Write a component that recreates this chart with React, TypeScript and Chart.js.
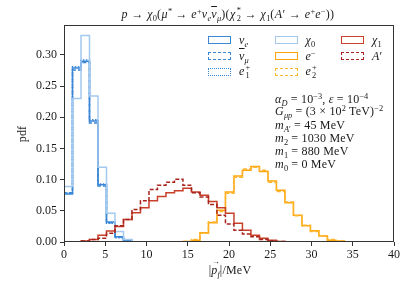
import React, { useEffect, useRef } from "react";
import { Chart, registerables } from "chart.js";

Chart.register(...registerables);

// ---------------- data ----------------
const BIN_WIDTH = 1.03; // MeV, shared bin width of all histograms
const X_MIN = 0;
const X_MAX = 40;
const X_STEP = 5;
const Y_MIN = 0;
const Y_MAX = 0.348;
const Y_STEP = 0.05;

// pdf values per bin (bin k spans [k*BIN_WIDTH, (k+1)*BIN_WIDTH])
const nuE = [0.077, 0.279, 0.29, 0.194, 0.092, 0.032, 0.0085, 0.003];
const nuMuBar = [0.079, 0.276, 0.288, 0.191, 0.09, 0.031, 0.008, 0.002];
const e1Plus = [0.078, 0.281, 0.292, 0.196, 0.093, 0.03, 0.007, 0.002];
const chi0 = [0.089, 0.23, 0.331, 0.234, 0.12, 0.046, 0.017, 0.004];
const eMinus = [
  0, 0, 0, 0, 0, 0, 0, 0, 0, 0, 0, 0, 0, 0, 0.001, 0.003, 0.015, 0.031, 0.051,
  0.08, 0.106, 0.115, 0.121, 0.113, 0.098, 0.083, 0.063, 0.043, 0.026, 0.018,
  0.0096, 0.003, 0.0016,
];
const e2Plus = [
  0, 0, 0, 0, 0, 0, 0, 0, 0, 0, 0, 0, 0, 0, 0.001, 0.004, 0.014, 0.032, 0.049,
  0.078, 0.104, 0.117, 0.12, 0.115, 0.096, 0.081, 0.064, 0.042, 0.027, 0.017,
  0.01, 0.004, 0.001,
];
const chi1 = [
  0, 0.0005, 0.0016, 0.004, 0.011, 0.0176, 0.025, 0.036, 0.047, 0.055, 0.066,
  0.073, 0.079, 0.082, 0.086, 0.08, 0.075, 0.065, 0.055, 0.046, 0.03, 0.019,
  0.011, 0.006, 0.0027, 0.001, 0.0005,
];
const aPrime = [
  0, 0.0005, 0.0016, 0.004, 0.006, 0.014, 0.026, 0.036, 0.052, 0.066, 0.084,
  0.091, 0.096, 0.1005, 0.091, 0.079, 0.072, 0.06, 0.043, 0.029, 0.019, 0.013,
  0.0085, 0.004, 0.002, 0.001,
];

// ---------------- styles ----------------
const FONT = "'Liberation Serif', 'DejaVu Serif', serif";
const FS = 12;
const BLUE = "#3a87d6";
const LIGHT_BLUE = "#a3c9ef";
const ORANGE = "#ffa50a";
const LIGHT_ORANGE = "#ffb52e";
const RED = "#c8402a";
const DARK_RED = "#a8231b";

type SeriesDef = {
  key: string;
  values: number[];
  color: string;
  dash: number[];
  css: string;
};

const SERIES: SeriesDef[] = [
  { key: "nuE", values: nuE, color: BLUE, dash: [], css: "solid" },
  { key: "nuMuBar", values: nuMuBar, color: BLUE, dash: [4, 2], css: "dashed" },
  { key: "e1Plus", values: e1Plus, color: BLUE, dash: [1.5, 1.5], css: "dotted" },
  { key: "chi0", values: chi0, color: LIGHT_BLUE, dash: [], css: "solid" },
  { key: "eMinus", values: eMinus, color: ORANGE, dash: [], css: "solid" },
  { key: "e2Plus", values: e2Plus, color: LIGHT_ORANGE, dash: [4, 2], css: "dashed" },
  { key: "chi1", values: chi1, color: RED, dash: [], css: "solid" },
  { key: "aPrime", values: aPrime, color: DARK_RED, dash: [4, 2], css: "dashed" },
];

function outline(values: number[]) {
  const pts: { x: number; y: number }[] = [{ x: 0, y: 0 }];
  values.forEach((v, i) => pts.push({ x: i * BIN_WIDTH, y: v }));
  pts.push({ x: values.length * BIN_WIDTH, y: 0 });
  return pts;
}

const framePlugin = {
  id: "frame",
  afterDraw(chart: any) {
    const { ctx, chartArea: a } = chart;
    ctx.save();
    ctx.strokeStyle = "#333";
    ctx.lineWidth = 1;
    ctx.strokeRect(
      Math.round(a.left) + 0.5,
      Math.round(a.top) + 0.5,
      Math.round(a.right - a.left) - 1,
      Math.round(a.bottom - a.top) - 1
    );
    ctx.restore();
  },
};

// ---------------- math text helpers ----------------
const Sub = ({ children }: { children: React.ReactNode }) => (
  <sub style={{ fontSize: "70%", verticalAlign: "-0.3em", lineHeight: 0, letterSpacing: 0 }}>{children}</sub>
);
const Sup = ({ children }: { children: React.ReactNode }) => (
  <sup style={{ fontSize: "70%", verticalAlign: "0.5em", lineHeight: 0, letterSpacing: 0 }}>{children}</sup>
);
const SubSup = ({ sub, sup }: { sub: React.ReactNode; sup: React.ReactNode }) => (
  <span
    style={{
      display: "inline-block",
      fontSize: "70%",
      lineHeight: 0.95,
      verticalAlign: "-0.35em",
      marginLeft: 1,
      textAlign: "left",
    }}
  >
    <span style={{ display: "block" }}>{sup}</span>
    <span style={{ display: "block" }}>{sub}</span>
  </span>
);
const I = ({ children }: { children: React.ReactNode }) => <i>{children}</i>;
const Bar = ({ children }: { children: React.ReactNode }) => (
  <span style={{ textDecoration: "overline" }}>{children}</span>
);

const baseText: React.CSSProperties = {
  position: "absolute",
  whiteSpace: "nowrap",
  fontFamily: FONT,
  fontSize: FS,
  letterSpacing: 0.2,
  lineHeight: 1,
  color: "#1a1a1a",
};

const LEGEND_LABELS: Record<string, React.ReactNode> = {
  nuE: (
    <>
      <I>ν</I>
      <Sub>
        <I>e</I>
      </Sub>
    </>
  ),
  nuMuBar: (
    <>
      <Bar>
        <I>ν</I>
      </Bar>
      <Sub>
        <I>μ</I>
      </Sub>
    </>
  ),
  e1Plus: (
    <>
      <I>e</I>
      <SubSup sub="1" sup="+" />
    </>
  ),
  chi0: (
    <>
      <I>χ</I>
      <Sub>0</Sub>
    </>
  ),
  eMinus: (
    <>
      <I>e</I>
      <Sup>−</Sup>
    </>
  ),
  e2Plus: (
    <>
      <I>e</I>
      <SubSup sub="2" sup="+" />
    </>
  ),
  chi1: (
    <>
      <I>χ</I>
      <Sub>1</Sub>
    </>
  ),
  aPrime: (
    <>
      <I>A</I>′
    </>
  ),
};

const LEGEND_COLS = [208, 274.5, 341];
const LEGEND_ROWS = [40, 56, 72];
const LEGEND_ORDER = [
  ["nuE", "nuMuBar", "e1Plus"],
  ["chi0", "eMinus", "e2Plus"],
  ["chi1", "aPrime"],
];

export default function App() {
  const canvasRef = useRef<HTMLCanvasElement | null>(null);

  useEffect(() => {
    document.body.style.margin = "0";
    const canvas = canvasRef.current;
    if (!canvas) return;
    const datasets = SERIES.map((s) => ({
      label: s.key,
      data: outline(s.values),
      borderColor: s.color,
      borderWidth: 1.5,
      borderDash: s.dash,
      stepped: true as const,
      pointRadius: 0,
      fill: false,
      tension: 0,
    })).reverse();

    const tickFont = { family: FONT, size: FS };
    const chart = new Chart(canvas, {
      type: "line",
      data: { datasets },
      options: {
        animation: false,
        responsive: false,
        devicePixelRatio: 1,
        layout: { padding: { top: 25, right: 13, left: 0, bottom: 0 } },
        plugins: {
          legend: { display: false },
          tooltip: { enabled: false },
          title: { display: false },
        },
        scales: {
          x: {
            type: "linear",
            min: X_MIN,
            max: X_MAX,
            afterFit: (s: any) => {
              s.height = 43;
            },
            ticks: {
              stepSize: X_STEP,
              includeBounds: false,
              maxRotation: 0,
              padding: 2,
              color: "#1a1a1a",
              font: tickFont,
            },
            grid: {
              display: true,
              drawOnChartArea: false,
              drawTicks: true,
              tickLength: 4,
              color: "#333",
            },
            border: { display: false },
          },
          y: {
            type: "linear",
            min: Y_MIN,
            max: Y_MAX,
            afterFit: (s: any) => {
              s.width = 64;
            },
            ticks: {
              stepSize: Y_STEP,
              includeBounds: false,
              padding: 3,
              color: "#1a1a1a",
              font: tickFont,
              callback: (v: any) => Number(v).toFixed(2),
            },
            grid: {
              display: true,
              drawOnChartArea: false,
              drawTicks: true,
              tickLength: 4,
              color: "#333",
            },
            border: { display: false },
          },
        },
      },
      plugins: [framePlugin],
    });
    return () => chart.destroy();
  }, []);

  const center = (x: number, y: number): React.CSSProperties => ({
    ...baseText,
    left: x,
    top: y,
    transform: "translate(-50%, -50%)",
  });
  const leftMid = (x: number, y: number): React.CSSProperties => ({
    ...baseText,
    left: x,
    top: y,
    transform: "translateY(-50%)",
  });

  return (
    <div style={{ position: "relative", width: 407, height: 285, background: "#fff" }}>
      <canvas ref={canvasRef} width={407} height={285} style={{ position: "absolute", left: 0, top: 0 }} />

      {/* title */}
      <div style={{ ...center(228, 15), letterSpacing: 0.4 }}>
        <I>p</I> → <I>χ</I>
        <Sub>0</Sub>(<I>μ</I>
        <Sup>*</Sup> → <I>e</I>
        <Sup>+</Sup>
        <I>ν</I>
        <Sub>
          <I>e</I>
        </Sub>
        <Bar>
          <I>ν</I>
        </Bar>
        <Sub>
          <I>μ</I>
        </Sub>
        )(<I>χ</I>
        <SubSup sub="2" sup="*" /> → <I>χ</I>
        <Sub>1</Sub>(<I>A</I>′ → <I>e</I>
        <Sup>+</Sup>
        <I>e</I>
        <Sup>−</Sup>))
      </div>

      {/* axis titles */}
      <div style={{ ...center(22, 134), transform: "translate(-50%, -50%) rotate(-90deg)" }}>pdf</div>
      <div style={center(230, 270)}>
        |
        <span style={{ position: "relative", display: "inline-block" }}>
          <I>p</I>
          <span
            style={{
              position: "absolute",
              left: 0.5,
              top: -6,
              fontSize: 8,
            }}
          >
            →
          </span>
        </span>
        <Sub>
          <I>f</I>
        </Sub>
        |/MeV
      </div>

      {/* legend */}
      {LEGEND_ORDER.map((col, ci) =>
        col.map((key, ri) => {
          const s = SERIES.find((d) => d.key === key)!;
          const x = LEGEND_COLS[ci];
          const y = LEGEND_ROWS[ri];
          return (
            <React.Fragment key={key}>
              <div
                style={{
                  position: "absolute",
                  left: x,
                  top: y - 4,
                  width: 23,
                  height: 8,
                  boxSizing: "border-box",
                  border: `1.5px ${s.css} ${s.color}`,
                }}
              />
              <div style={leftMid(x + 31, y)}>{LEGEND_LABELS[key]}</div>
            </React.Fragment>
          );
        })
      )}

      {/* annotation */}
      <div style={leftMid(275, 99)}>
        <I>α</I>
        <Sub>
          <I>D</I>
        </Sub>{" "}
        = 10<Sup>−3</Sup>, <I>ε</I> = 10<Sup>−4</Sup>
      </div>
      <div style={leftMid(275, 111)}>
        <I>G</I>
        <Sub>
          <I>μp</I>
        </Sub>{" "}
        = (3 × 10<Sup>2</Sup> TeV)<Sup>−2</Sup>
      </div>
      <div style={leftMid(275, 125)}>
        <I>m</I>
        <Sub>
          <I>A</I>′
        </Sub>{" "}
        = 45 MeV
      </div>
      <div style={leftMid(275, 138)}>
        <I>m</I>
        <Sub>2</Sub> = 1030 MeV
      </div>
      <div style={leftMid(275, 151)}>
        <I>m</I>
        <Sub>1</Sub> = 880 MeV
      </div>
      <div style={leftMid(275, 164)}>
        <I>m</I>
        <Sub>0</Sub> = 0 MeV
      </div>
    </div>
  );
}
